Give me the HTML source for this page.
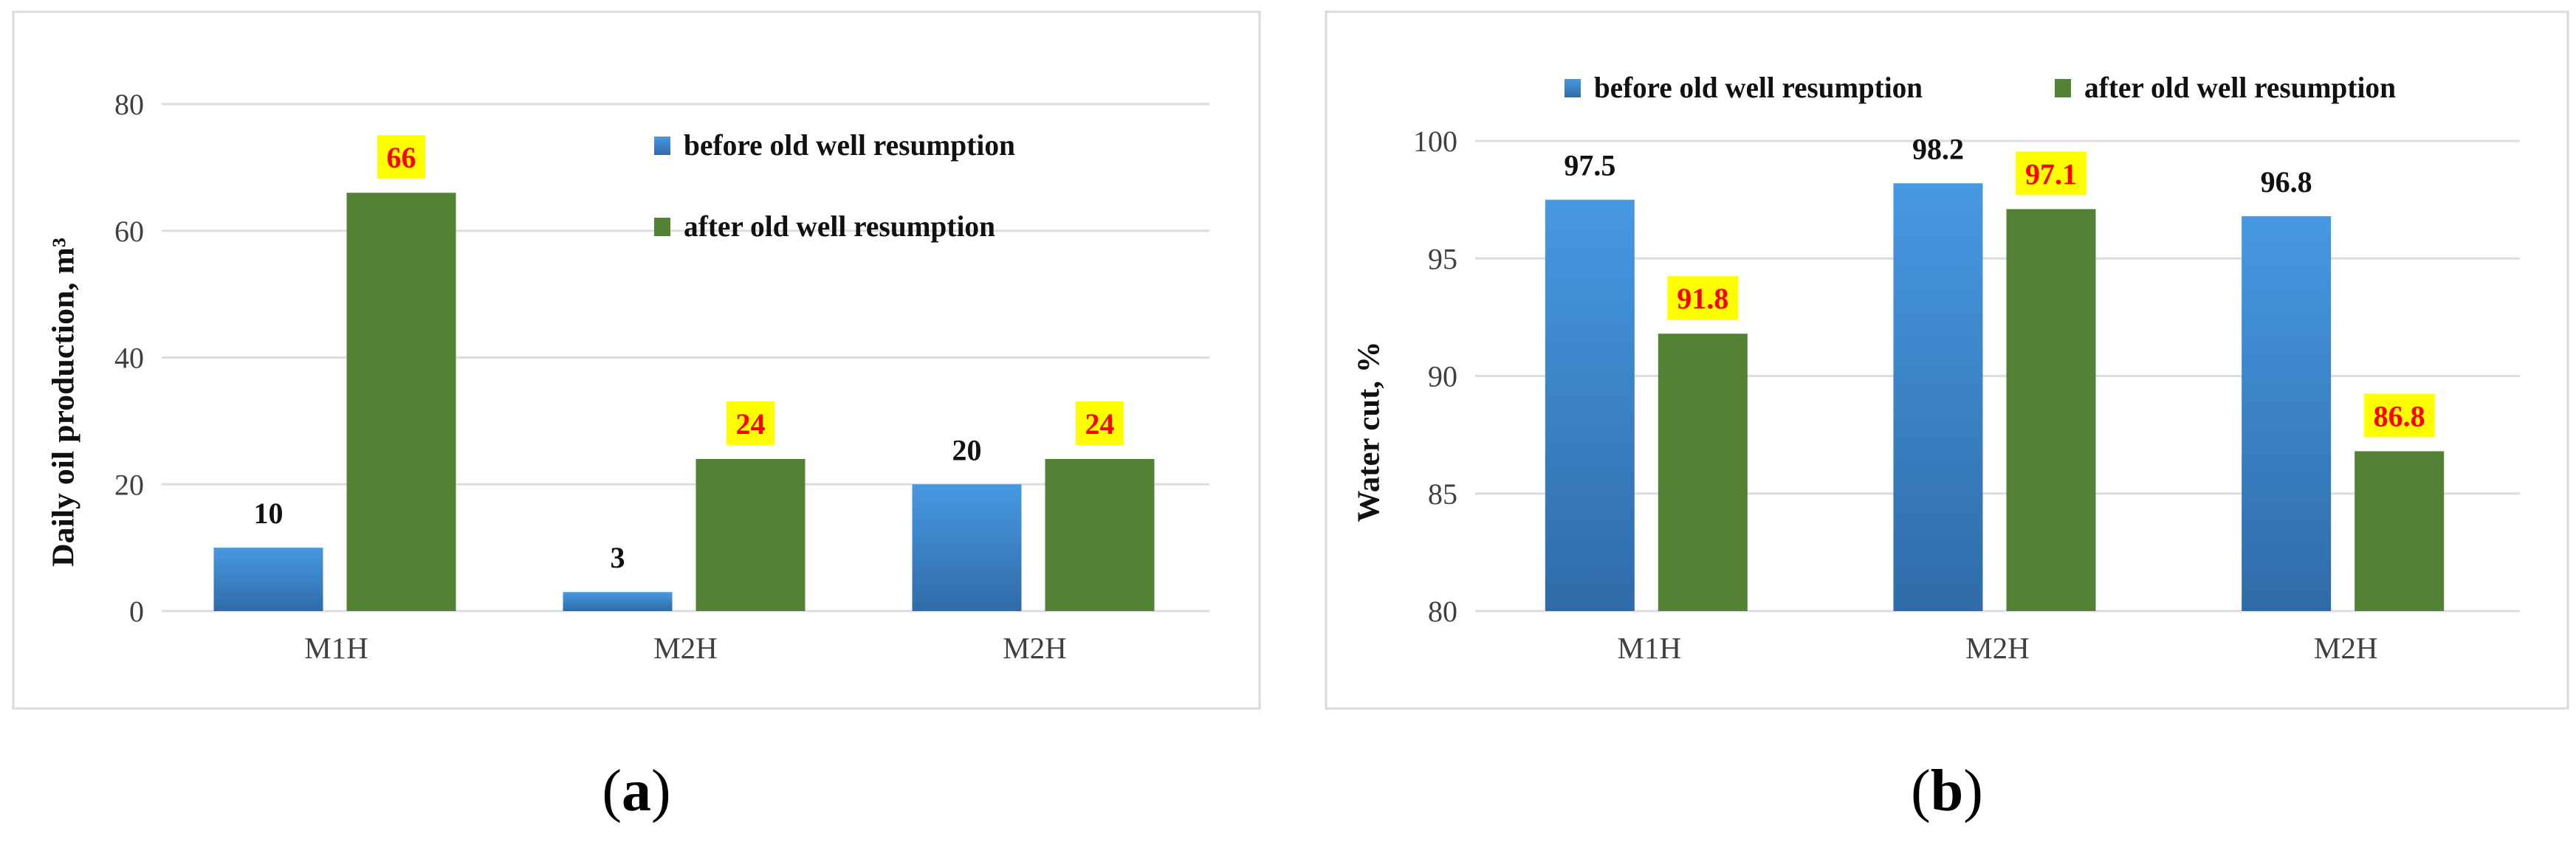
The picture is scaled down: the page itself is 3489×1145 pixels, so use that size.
<!DOCTYPE html>
<html><head><meta charset="utf-8"><style>
html,body{margin:0;padding:0;background:#fff;}
svg text{font-family:"Liberation Serif",serif;}
</style></head><body>
<svg id="root" width="3489" height="1140" viewBox="0 0 3489 1140" xmlns="http://www.w3.org/2000/svg">
<defs>
<linearGradient id="gBlue" x1="0" y1="0" x2="0" y2="1"><stop offset="0" stop-color="#4799e2"/><stop offset="1" stop-color="#2f6ba8"/></linearGradient>
</defs>
<g id="panelA"></g>
<g id="panelB"></g>
</svg>
<script>
const categoriesA = ["M1H","M2H","M2H"];
const beforeA = [10,3,20];
const afterA = [66,24,24];
const ticksA = [0,20,40,60,80];
const categoriesB = ["M1H","M2H","M2H"];
const beforeB = [97.5,98.2,96.8];
const afterB = [91.8,97.1,86.8];
const ticksB = [80,85,90,95,100];
const legendLabels = ["before old well resumption","after old well resumption"];

const NS="http://www.w3.org/2000/svg";
function mk(parent,tag,attrs,text){const e=document.createElementNS(NS,tag);for(const k in attrs)e.setAttribute(k,attrs[k]);if(text!==undefined)e.textContent=text;parent.appendChild(e);return e;}

function draw(g,cfg){
  const {frame,left,right,top,bottom,vmin,vmax,cats,before,after,ticks,bw,bOff,gOff,title,titleX,titleY,titleLen,legend,caption,capX,fmt}=cfg;
  const y=v=>bottom-(v-vmin)/(vmax-vmin)*(bottom-top);
  const cw=(right-left)/cats.length;
  const xc=i=>left+cw*(i+0.5);
  let r=mk(g,'rect',{x:frame[0],y:frame[1],width:frame[2],height:frame[3],fill:'#fff',stroke:'#d9d9d9','stroke-width':3});
  
  
  ticks.forEach(t=>{
    let l=mk(g,'line',{x1:left,x2:right,y1:y(t),y2:y(t),stroke:'#dcdde3','stroke-width':3});
    
    
    let tx=mk(g,'text',{x:left-24,y:y(t)+14,'text-anchor':'end','font-size':40,fill:'#404040'},String(t));
    
    
  });
  cats.forEach((c,i)=>{
    const c0=xc(i);
    let b=mk(g,'rect',{x:c0+bOff,y:y(before[i]),width:bw,height:y(vmin)-y(before[i]),fill:'url(#gBlue)'});
    
    
    let a=mk(g,'rect',{x:c0+gOff,y:y(after[i]),width:bw,height:y(vmin)-y(after[i]),fill:'#548235'});
    
    
    let bl=mk(g,'text',{x:c0+bOff+bw/2,y:y(before[i])-33,'text-anchor':'middle','font-size':40,'font-weight':'bold',fill:'#111'},fmt(before[i]));
    
    
    const bxW=fmt(after[i]).length>2?96:65;
    let bx=mk(g,'rect',{x:c0+gOff+bw/2-bxW/2,y:y(after[i])-78,width:bxW,height:59,fill:'#ffff00'});
    
    
    let al=mk(g,'text',{x:c0+gOff+bw/2,y:y(after[i])-34,'text-anchor':'middle','font-size':40,'font-weight':'bold',fill:'#ff0000'},fmt(after[i]));
    
    
    let cl=mk(g,'text',{x:c0,y:bottom+64,'text-anchor':'middle','font-size':41,fill:'#404040'},c);
    
    
  });
  let tt=mk(g,'text',{x:titleX,y:titleY,'text-anchor':'middle','font-size':42,'font-weight':'bold',fill:'#111',textLength:titleLen,lengthAdjust:'spacingAndGlyphs',transform:`rotate(-90 ${titleX} ${titleY})`,'dominant-baseline':'middle'},title);
  
  
  legend.forEach((L,k)=>{
    let sq=mk(g,'rect',{x:L[0],y:L[1]-12,width:22,height:25,fill:k?'#548235':'url(#gBlue)'});
    
    
    let lt=mk(g,'text',{x:L[0]+40,y:L[1]+13,'font-size':40,'font-weight':'bold',fill:'#111',textLength:L[2],lengthAdjust:'spacingAndGlyphs'},legendLabels[k]);
    
    
  });
  let cp=mk(g,'text',{x:capX,y:1098,'text-anchor':'middle','font-size':80,fill:'#000'});
  
  
  mk(cp,'tspan',{},'(');mk(cp,'tspan',{'font-weight':'bold'},caption);mk(cp,'tspan',{},')');
}
draw(document.getElementById('panelA'),{frame:[18,16,1688,944],left:219,right:1638,top:141,bottom:828,vmin:0,vmax:80,
  cats:categoriesA,before:beforeA,after:afterA,ticks:ticksA,bw:148,bOff:-166,gOff:14,
  title:"Daily oil production, m³",titleX:90,titleY:545,titleLen:446,legend:[[886,197,449],[886,307,422]],caption:'a',capX:862,fmt:v=>String(v)});
draw(document.getElementById('panelB'),{frame:[1796,16,1682,944],left:1998,right:3413,top:191,bottom:828,vmin:80,vmax:100,
  cats:categoriesB,before:beforeB,after:afterB,ticks:ticksB,bw:121,bOff:-141,gOff:12,
  title:"Water cut, %",titleX:1858,titleY:585,titleLen:245,legend:[[2119,119,445],[2783,119,422]],caption:'b',capX:2637,fmt:v=>v.toFixed(1)});
</script>
</body></html>
